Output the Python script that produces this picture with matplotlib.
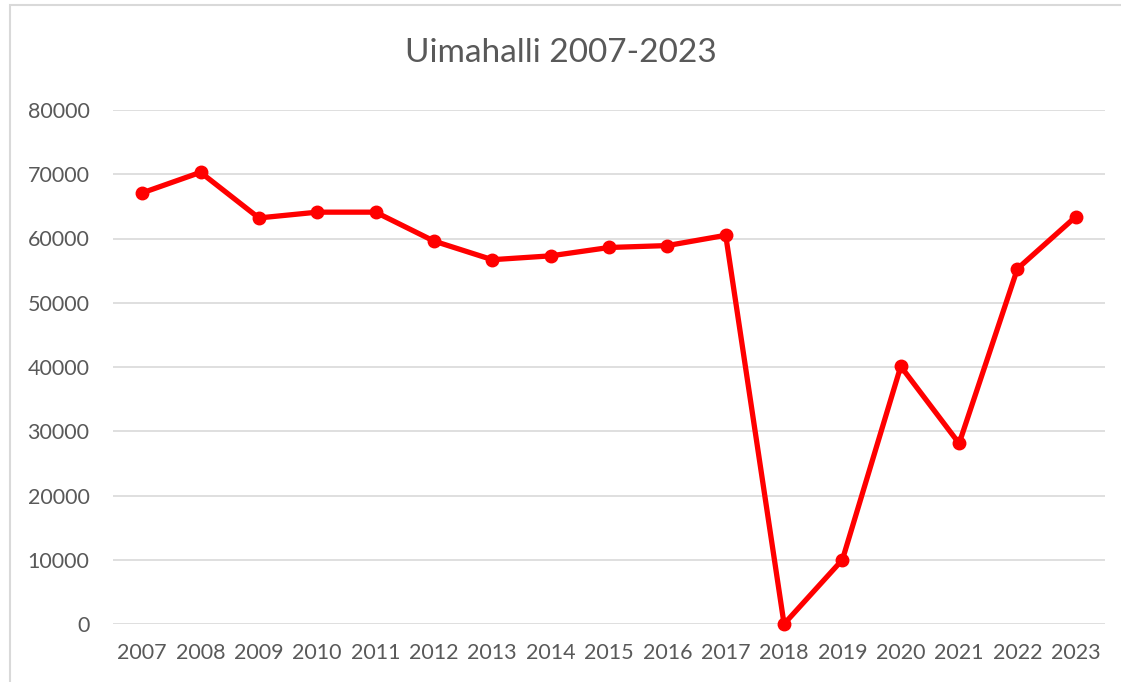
import matplotlib
matplotlib.use("Agg")
import matplotlib.pyplot as plt
from matplotlib.patches import Rectangle

years = ["2007", "2008", "2009", "2010", "2011", "2012", "2013", "2014", "2015",
         "2016", "2017", "2018", "2019", "2020", "2021", "2022", "2023"]
visitors = [67100, 70300, 63200, 64100, 64100, 59600, 56700, 57300, 58600,
            58900, 60500, 0, 10000, 40100, 28100, 55300, 63400]
yticks = [0, 10000, 20000, 30000, 40000, 50000, 60000, 70000, 80000]
title = "Uimahalli 2007-2023"

plt.rcParams['font.family'] = ['Lato', 'DejaVu Sans']
fig = plt.figure(figsize=(11.21, 6.82), dpi=100)
ax = fig.add_axes([113/1121, 1-624/682, (1105-113)/1121, (624-110)/682])

x = list(range(len(years)))
ax.plot(x, visitors, color="#ff0000", lw=3.8, marker="o", markersize=9,
        solid_joinstyle="round", zorder=3, clip_on=False)

ax.set_xlim(-0.5, len(years) - 0.5)
ax.set_ylim(0, 80000)
ax.set_yticks(yticks)
ax.set_yticklabels([str(v) for v in yticks])
ax.set_xticks(x)
ax.set_xticklabels(years)
ax.grid(axis="y", color="#d9d9d9", lw=1.2)
ax.set_axisbelow(True)
for s in ax.spines.values():
    s.set_visible(False)
ax.tick_params(length=0, colors="#595959", labelsize=15.5)
ax.tick_params(axis="y", pad=17)
ax.tick_params(axis="x", pad=14)

fig.text(0.5, 1-53/682, title, ha="center", va="center", fontsize=24, color="#595959")

fig.patches.append(Rectangle((10/1121, -0.01), 1.1, 1-5/682+0.01, transform=fig.transFigure,
                             fill=False, edgecolor="#d9d9d9", lw=1.5))

fig.savefig("out.png", dpi=100, facecolor="white")
